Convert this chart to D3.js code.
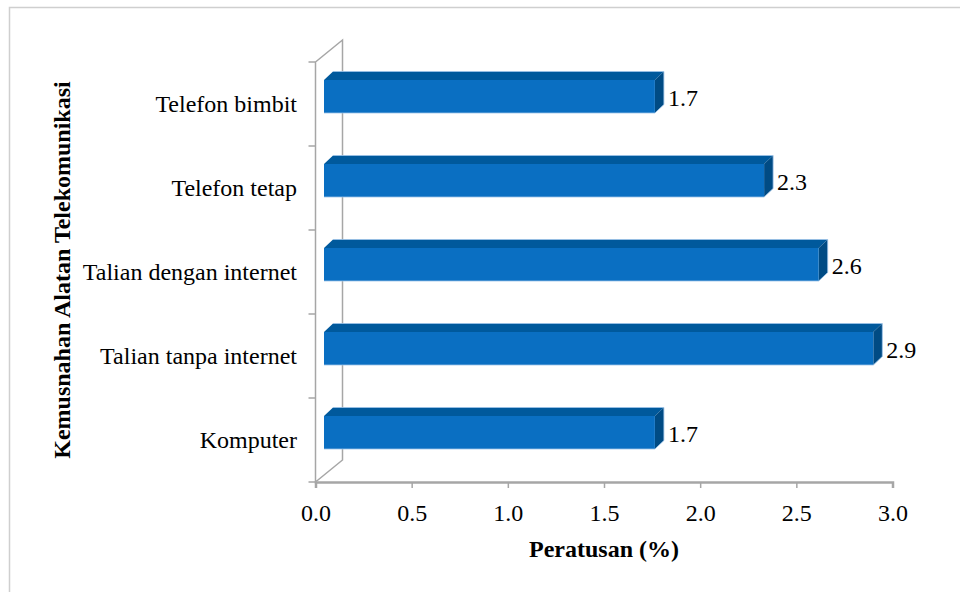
<!DOCTYPE html>
<html>
<head>
<meta charset="utf-8">
<script src="https://cdn.jsdelivr.net/npm/d3@7"></script>
<style>
  body { margin: 0; background: #fff; }
  svg text { font-family: "Liberation Serif", "DejaVu Serif", "Noto Serif", serif !important; fill: #000; }
</style>
</head>
<body>
<div id="dis"></div>
<script>
var categories = ["Telefon bimbit", "Telefon tetap", "Talian dengan internet", "Talian tanpa internet", "Komputer"];
var values = [1.7, 2.3, 2.6, 2.9, 1.7];
var xTicks = [0, 0.5, 1, 1.5, 2, 2.5, 3];
var xTitle = "Peratusan (%)";
var yTitle = "Kemusnahan Alatan Telekomunikasi";

var draw = function() {
    var width = 960;
    var height = 592;
    var depth = [27, -22];   // side wall offset
    var bdep = [9, -8.5];    // bar depth offset
    var gray = "#a6a6a6";
    var serif = "Liberation Serif, DejaVu Serif, serif";

    var svg = d3.select("#dis").append("svg")
        .attr("width", width)
        .attr("height", height);

    // outer frame
    svg.append("path")
        .attr("d", "M 9.5 " + height + " L 9.5 7.5 L " + width + " 7.5")
        .attr("fill", "none")
        .attr("stroke", "#cfcfcf")
        .attr("stroke-width", 1.5);

    var x = d3.scaleLinear().domain([0, 3]).range([315.5, 892.5]);
    var xBar = d3.scaleLinear().domain([0, 3]).range([345.5, 891.5]);
    var y = d3.scaleBand().domain(categories).range([62, 482]);
    var barOff = 18, barH = 33, barLeft = 324;

    // side wall
    var x0 = x(0), yTop = y.range()[0], yBot = y.range()[1];
    svg.append("path")
        .attr("d", "M " + x0 + " " + yTop + " L " + (x0 + depth[0]) + " " + (yTop + depth[1]) +
                   " L " + (x0 + depth[0]) + " " + (yBot + depth[1]) + " L " + x0 + " " + yBot + " Z" +
                   " M " + x0 + " " + yTop + " L " + x0 + " " + yBot)
        .attr("fill", "none")
        .attr("stroke", gray)
        .attr("stroke-width", 1.5);

    // category ticks on front edge
    var ticksY = categories.map(c => y(c)).concat([yBot]);
    svg.append("g")
        .attr("stroke", gray)
        .attr("stroke-width", 1.5)
        .selectAll("line")
        .data(ticksY)
        .join("line")
        .attr("x1", x0 - 7).attr("x2", x0)
        .attr("y1", d => d).attr("y2", d => d);

    // x axis
    var xAxis = svg.append("g")
        .attr("transform", "translate(0," + yBot + ")")
        .call(d3.axisBottom(x).tickValues(xTicks).tickSize(6).tickPadding(16).tickFormat(d3.format(".1f")));
    xAxis.attr("font-family", serif);
    xAxis.select(".domain").attr("stroke", gray).attr("stroke-width", 2.5);
    xAxis.selectAll(".tick line").attr("stroke", gray).attr("stroke-width", 1.5);
    xAxis.selectAll(".tick text").attr("font-size", 24).attr("fill", "#000");

    // bars
    var bars = svg.append("g")
        .selectAll("g")
        .data(categories.map((c, i) => ({c: c, v: values[i]})))
        .join("g");

    bars.append("path")
        .attr("fill", "#00599c")
        .attr("d", d => {
            var t = y(d.c) + barOff, r = xBar(d.v);
            return "M " + barLeft + " " + t + " L " + (barLeft + bdep[0]) + " " + (t + bdep[1]) +
                   " L " + (r + bdep[0]) + " " + (t + bdep[1]) + " L " + r + " " + t + " Z";
        });
    bars.append("path")
        .attr("fill", "#004b84")
        .attr("d", d => {
            var t = y(d.c) + barOff, r = xBar(d.v);
            return "M " + r + " " + t + " L " + (r + bdep[0]) + " " + (t + bdep[1]) +
                   " L " + (r + bdep[0]) + " " + (t + barH + bdep[1]) + " L " + r + " " + (t + barH) + " Z";
        });
    bars.append("rect")
        .attr("fill", "#0a6fc2")
        .attr("x", barLeft)
        .attr("y", d => y(d.c) + barOff)
        .attr("width", d => xBar(d.v) - barLeft)
        .attr("height", barH);
    bars.append("path")
        .attr("fill", "none")
        .attr("stroke", "#9cc3e8")
        .attr("stroke-width", 0.8)
        .attr("d", d => {
            var t = y(d.c) + barOff, r = xBar(d.v);
            return "M " + barLeft + " " + (t + barH) + " L " + r + " " + (t + barH) +
                   " L " + (r + bdep[0]) + " " + (t + barH + bdep[1]) + " L " + (r + bdep[0]) + " " + (t + bdep[1]) +
                   " L " + (barLeft + bdep[0]) + " " + (t + bdep[1]);
        });

    // value labels
    bars.append("text")
        .attr("x", d => xBar(d.v) + bdep[0] + 4)
        .attr("y", d => y(d.c) + barOff + barH / 2 + 1)
        .attr("dy", "0.35em")
        .attr("font-family", serif)
        .attr("font-size", 24)
        .text(d => d.v.toFixed(1));

    // category labels
    svg.append("g")
        .attr("font-family", serif)
        .selectAll("text")
        .data(categories)
        .join("text")
        .attr("x", 297)
        .attr("y", d => y(d) + y.bandwidth() / 2)
        .attr("dy", "0.35em")
        .attr("text-anchor", "end")
        .attr("font-size", 24)
        .text(d => d);

    // titles
    svg.append("text")
        .attr("x", (x(0) + x(3)) / 2)
        .attr("y", 549)
        .attr("dy", "0.35em")
        .attr("text-anchor", "middle")
        .attr("font-family", serif)
        .attr("font-size", 24)
        .attr("font-weight", "bold")
        .text(xTitle);

    svg.append("text")
        .attr("transform", "translate(62,270) rotate(-90)")
        .attr("dy", "0.35em")
        .attr("text-anchor", "middle")
        .attr("font-family", serif)
        .attr("font-size", 24)
        .attr("font-weight", "bold")
        .text(yTitle);
};

window.onload = function() {
    draw();
};
</script>
</body>
</html>
